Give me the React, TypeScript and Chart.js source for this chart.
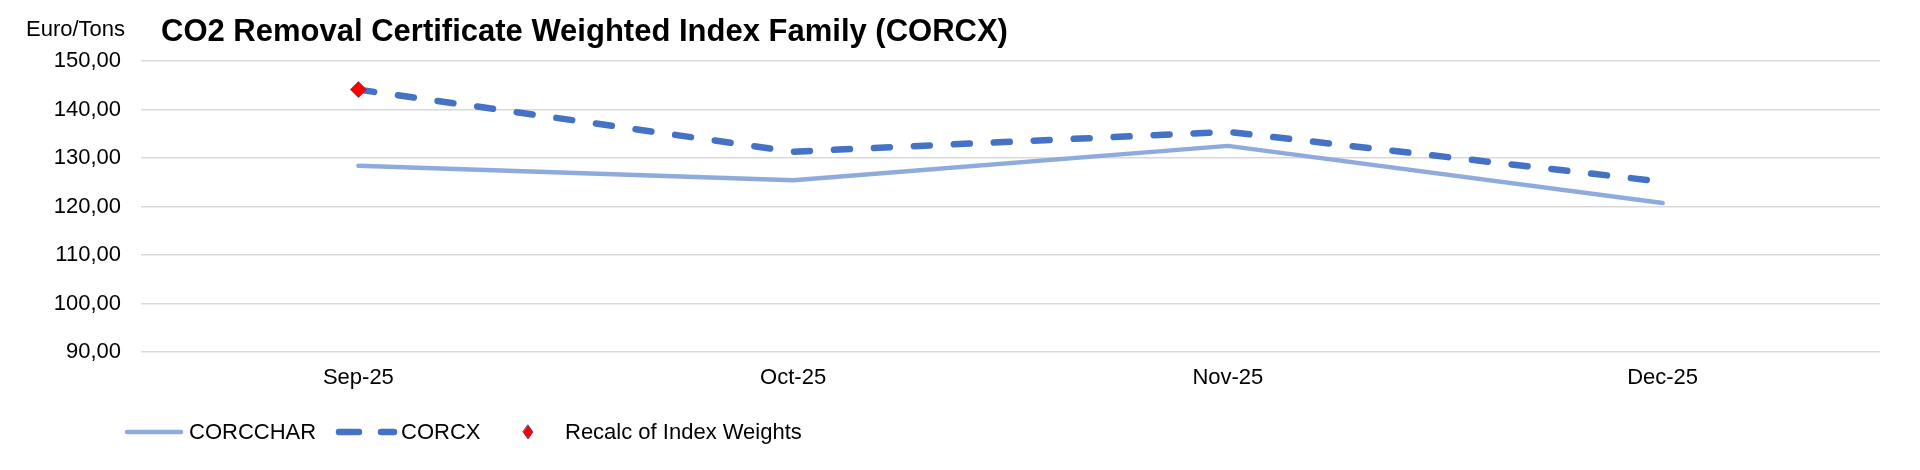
import React, { useEffect, useRef } from 'react';
import { Chart, registerables } from 'chart.js';

Chart.register(...registerables);

const categories = ['Sep-25', 'Oct-25', 'Nov-25', 'Dec-25'];
const corcchar = [128.4, 125.4, 132.5, 120.7];
const corcx = [144.1, 131.3, 135.4, 125.1];
const recalc = [144.1, null, null, null];
const yMin = 90;
const yMax = 150;
const yStep = 10;
const titleText = 'CO2 Removal Certificate Weighted Index Family (CORCX)';
const unitText = 'Euro/Tons';
const seriesNames = ['CORCCHAR', 'CORCX', 'Recalc of Index Weights'];

const FONT = '"Liberation Sans", Arial, Helvetica, sans-serif';
const LIGHT = '#8FAADC';
const DARK = '#4472C4';

const decorPlugin = {
  id: 'decor',
  afterDraw(chart: any) {
    const ctx = chart.ctx as CanvasRenderingContext2D;
    ctx.save();
    // unit label
    ctx.fillStyle = '#000';
    ctx.textBaseline = 'alphabetic';
    ctx.textAlign = 'left';
    ctx.font = `22px ${FONT}`;
    ctx.fillText(unitText, 26, 36);
    // title
    ctx.font = `bold 31px ${FONT}`;
    ctx.fillText(titleText, 161, 41);

    // legend
    const ly = 432;
    ctx.lineCap = 'round';
    // CORCCHAR
    ctx.strokeStyle = LIGHT;
    ctx.lineWidth = 4.5;
    ctx.setLineDash([]);
    ctx.beginPath();
    ctx.moveTo(127, ly);
    ctx.lineTo(181, ly);
    ctx.stroke();
    // CORCX
    ctx.strokeStyle = DARK;
    ctx.lineWidth = 6.5;
    ctx.setLineDash([20, 22]);
    ctx.beginPath();
    ctx.moveTo(339, ly);
    ctx.lineTo(394, ly);
    ctx.stroke();
    ctx.setLineDash([]);
    // diamond
    ctx.fillStyle = '#FF0000';
    ctx.strokeStyle = '#2F4F8F';
    ctx.lineWidth = 0.8;
    ctx.beginPath();
    ctx.moveTo(528, ly - 7);
    ctx.lineTo(533, ly);
    ctx.lineTo(528, ly + 7);
    ctx.lineTo(523, ly);
    ctx.closePath();
    ctx.fill();
    ctx.stroke();

    ctx.fillStyle = '#000';
    ctx.font = `22px ${FONT}`;
    ctx.textBaseline = 'alphabetic';
    ctx.fillText(seriesNames[0], 189, 439);
    ctx.fillText(seriesNames[1], 401, 439);
    ctx.fillText(seriesNames[2], 565, 439);
    ctx.restore();
  },
};

const bgPlugin = {
  id: 'bg',
  beforeDraw(chart: any) {
    const ctx = chart.ctx as CanvasRenderingContext2D;
    ctx.save();
    ctx.fillStyle = '#ffffff';
    ctx.fillRect(0, 0, chart.width, chart.height);
    ctx.restore();
  },
};

export default function App() {
  const ref = useRef<HTMLCanvasElement | null>(null);
  useEffect(() => {
    if (!ref.current) return;
    const chart = new Chart(ref.current, {
      type: 'line',
      data: {
        labels: categories,
        datasets: [
          {
            label: seriesNames[2],
            data: recalc,
            showLine: false,
            pointStyle: 'rectRot',
            pointRadius: 8,
            pointBackgroundColor: '#FF0000',
            pointBorderColor: '#2F4F8F',
            pointBorderWidth: 0.8,
            borderColor: '#FF0000',
            backgroundColor: '#FF0000',
            order: 0,
          },
          {
            label: seriesNames[1],
            data: corcx,
            borderColor: DARK,
            backgroundColor: DARK,
            borderWidth: 6.5,
            borderDash: [16, 24],
            borderCapStyle: 'round',
            borderJoinStyle: 'round',
            pointRadius: 0,
            tension: 0,
            order: 1,
          },
          {
            label: seriesNames[0],
            data: corcchar,
            borderColor: LIGHT,
            backgroundColor: LIGHT,
            borderWidth: 4.5,
            borderCapStyle: 'round',
            borderJoinStyle: 'round',
            pointRadius: 0,
            tension: 0,
            order: 2,
          },
        ],
      },
      options: {
        responsive: false,
        animation: false,
        devicePixelRatio: 1,
        layout: { padding: { left: 0, right: 40, top: 61, bottom: 0 } },
        plugins: {
          legend: { display: false },
          title: { display: false },
          tooltip: { enabled: false },
        },
        scales: {
          x: {
            offset: true,
            grid: { display: false, drawTicks: false },
            border: { display: false },
            ticks: {
              padding: 13,
              color: '#000',
              font: { family: FONT, size: 22 },
              maxRotation: 0,
            },
            afterFit: (s: any) => {
              s.height = 118;
            },
          },
          y: {
            min: yMin,
            max: yMax,
            grid: { color: '#d9d9d9', lineWidth: 1.5, drawTicks: false },
            border: { display: false },
            ticks: {
              stepSize: yStep,
              padding: 20,
              color: '#000',
              font: { family: FONT, size: 22 },
              callback: (v: any) => Number(v).toFixed(2).replace('.', ','),
            },
            afterFit: (s: any) => {
              s.width = 141;
            },
          },
        },
      },
      plugins: [bgPlugin, decorPlugin],
    });
    return () => chart.destroy();
  }, []);
  return (
    <div style={{ position: 'absolute', left: 0, top: 0, width: 1920, height: 470 }}>
      <canvas ref={ref} width={1920} height={470} style={{ display: 'block', width: 1920, height: 470 }} />
    </div>
  );
}
